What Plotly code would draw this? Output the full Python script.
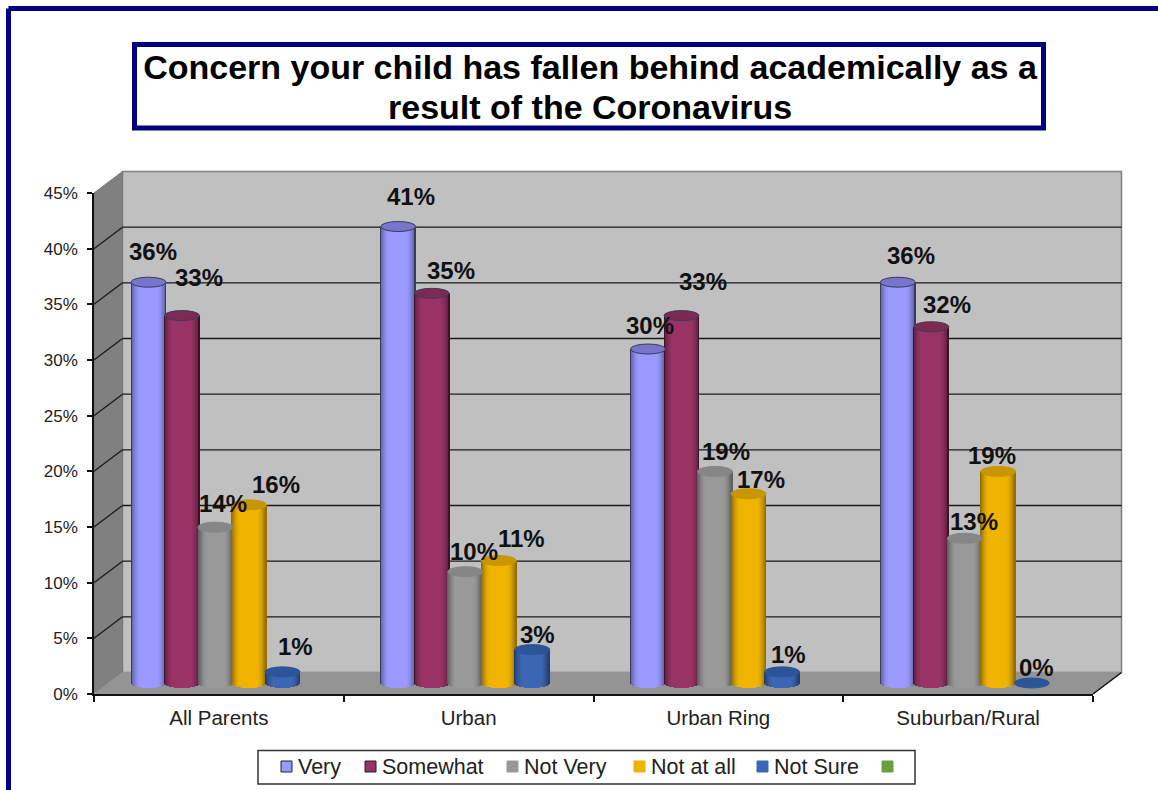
import math
import plotly.graph_objects as go

CATEGORIES = ["All Parents", "Urban", "Urban Ring", "Suburban/Rural"]
SERIES = ["Very", "Somewhat", "Not Very", "Not at all", "Not Sure"]
VERY = [36, 41, 30, 36]
SOMEWHAT = [33, 35, 33, 32]
NOT_VERY = [14, 10, 19, 13]
NOT_AT_ALL = [16, 11, 17, 19]
NOT_SURE = [1, 3, 1, 0]
VALUES = [VERY, SOMEWHAT, NOT_VERY, NOT_AT_ALL, NOT_SURE]
Y_TICKS = [0, 5, 10, 15, 20, 25, 30, 35, 40, 45]
TITLE_LINES = ["Concern your child has fallen behind academically as a", "result of the Coronavirus"]

# ---- styling ----
COLORS = ["#9999FF", "#993366", "#999999", "#F0B400", "#3A66B4"]
LIDS = ["#7676CC", "#7C2A52", "#868686", "#C89600", "#2C5598"]
OUTLINED = [True, True, False, False, False]
NAVY = "#000080"
W, H = 1158, 790
X0, X1, Y0, Y45 = 94, 1093, 694, 193
DX, DY = 28.5, 21.5           # depth of the box
PX_X = (X1 - X0) / 4          # px per category
PX_Y = (Y0 - Y45) / 45        # px per percent
LIFT = 11 / PX_Y              # marks stand inside the box
CYL = 35 / PX_X               # cylinder width
SLOTS = [54.5 / PX_X + i * 33.5 / PX_X for i in range(5)]
LID_H = 5 / PX_Y
N = 35

# label offsets from top of cylinder (px right, px up)
SHIFT = [
    [(4.5, 31), (17, 38), (7.5, 24), (27, 20), (12.5, 25)],
    [(12.75, 30), (19, 22.5), (9, 20), (23, 21.6), (5, 15)],
    [(2, 24), (21.5, 34), (11, 20), (12.5, 14), (6, 17)],
    [(13, 27), (16, 22), (9, 17), (-6, 15.5), (5, 16)],
]


def px(x):
    return (x - X0) / (X1 - X0)


def py(y):
    return (Y0 - y) / (Y0 - Y45)


def mix(c, amt):
    r, g, b = int(c[1:3], 16), int(c[3:5], 16), int(c[5:7], 16)
    f = 1 - amt
    return f"rgb({r*f:.0f},{g*f:.0f},{b*f:.0f})"


def shade(c, t, outlined):
    a = abs(t)
    amt = 0.0
    if a > 0.5:
        amt = ((a - 0.5) / 0.5) ** 1.6 * 0.42
    if outlined and a > 0.93:
        amt = 0.62
    return mix(c, amt)


def poly(points, fill, line=None, width=1, layer="below"):
    path = "M" + "L".join(f"{px(x):.5f},{py(y):.5f}" for x, y in points) + "Z"
    return dict(type="path", path=path, xref="paper", yref="paper", fillcolor=fill,
                line=dict(color=line or fill, width=width), layer=layer)


def seg(x0, y0, x1, y1, color, width, layer="below"):
    return dict(type="line", xref="paper", yref="paper", x0=px(x0), y0=py(y0), x1=px(x1), y1=py(y1),
                line=dict(color=color, width=width), layer=layer)


shapes = [
    # outer frame
    seg(8.5, 8.5, W, 8.5, NAVY, 5, "above"),
    seg(8.5, 8.5, 8.5, H, NAVY, 5, "above"),
    # title box
    poly([(134.5, 44.5), (1043.5, 44.5), (1043.5, 128), (134.5, 128)], "rgba(0,0,0,0)", NAVY, 5),
    # box walls
    poly([(X0 + DX, Y45 - DY), (X1 + DX, Y45 - DY), (X1 + DX, Y0 - DY), (X0 + DX, Y0 - DY)], "#C0C0C0", "#808080", 1.5),
    poly([(X0, Y45), (X0 + DX, Y45 - DY), (X0 + DX, Y0 - DY), (X0, Y0)], "#808080", "#777777", 1),
    poly([(X0, Y0), (X0 + DX, Y0 - DY), (X1 + DX, Y0 - DY), (X1, Y0)], "#949494", "#949494", 1),
    seg(X1, Y0, X1 + DX, Y0 - DY, "#111111", 1.5),
]
for v in Y_TICKS[1:-1]:
    yy = Y0 - v * PX_Y
    shapes.append(seg(X0, yy, X0 + DX, yy - DY, "#1A1A1A", 1.3))
    shapes.append(seg(X0 + DX, yy - DY, X1 + DX, yy - DY, "#1A1A1A", 1.3))

fig = go.Figure()
# keeps the front axis (the one with the tick labels) alive: the marks use y2
fig.add_scatter(x=[0], y=[0], mode="none", showlegend=False, hoverinfo="skip")
annotations = []
for s, name in enumerate(SERIES):
    vals = VALUES[s]
    xs = [g + SLOTS[s] for g in range(4)]
    fig.add_bar(x=xs, y=vals, width=CYL, name=name, yaxis="y2", marker=dict(color=COLORS[s], line_width=0),
                hovertemplate=name + ": %{y}%<extra></extra>")
    sx, sy, sb, sc = [], [], [], []
    for g, v in enumerate(vals):
        if v == 0:
            continue
        for i in range(N):
            t = -1 + (2 * i + 1) / N
            b = -LID_H * math.sqrt(max(0, 1 - t * t))
            sx.append(xs[g] + t * CYL / 2)
            sb.append(b)
            sy.append(v - b)
            sc.append(shade(COLORS[s], t, OUTLINED[s]))
    fig.add_bar(x=sx, y=sy, base=sb, width=CYL / N, yaxis="y2", showlegend=False, hoverinfo="skip",
                marker=dict(color=sc, line_width=0))
    for g, v in enumerate(vals):
        shapes.append(dict(type="circle", xref="x", yref="y2", x0=xs[g] - CYL / 2, x1=xs[g] + CYL / 2,
                           y0=v - LID_H, y1=v + LID_H, fillcolor=LIDS[s],
                           line=dict(color="#3A3A5A" if OUTLINED[s] else LIDS[s], width=1), layer="above"))
        dx, dy = SHIFT[g][s]
        annotations.append(dict(x=xs[g], y=v, xref="x", yref="y2", text=f"{v}%", showarrow=False,
                                xshift=dx, yshift=dy, xanchor="center", yanchor="middle",
                                font=dict(family="Liberation Sans", size=24, color="#111111", weight="bold")))

# second title line (tighter leading than a <br> would give)
annotations.append(dict(x=px(590), y=py(107), xref="paper", yref="paper", text=TITLE_LINES[1], showarrow=False,
                        xanchor="center", yanchor="middle",
                        font=dict(family="Liberation Sans", size=34, color="#000000", weight="bold")))

# legend drawn to the reference's spacing
shapes.append(dict(type="rect", xref="paper", yref="paper", x0=px(258), x1=px(915), y0=py(750.5), y1=py(784),
                   fillcolor="white", line=dict(color="#333333", width=1.5), layer="below"))
LEG_X = [281, 365, 507, 634, 757, 882]
LEG_COL = COLORS + ["#6AA040"]
for i, lx in enumerate(LEG_X):
    outlined = i < 2
    shapes.append(dict(type="rect", xref="paper", yref="paper", x0=px(lx), x1=px(lx + 11), y0=py(761), y1=py(772),
                       fillcolor=LEG_COL[i], line=dict(color="#222222" if outlined else LEG_COL[i], width=1), layer="below"))
    if i < 5:
        annotations.append(dict(x=px(lx + 15), y=py(767), xref="paper", yref="paper", text=SERIES[i], showarrow=False,
                                xanchor="left", yanchor="middle",
                                font=dict(family="Liberation Sans", size=21.5, color="#222222")))

fig.update_layout(
    width=W, height=H, autosize=False, showlegend=False, barmode="overlay", bargap=0,
    paper_bgcolor="white", plot_bgcolor="rgba(0,0,0,0)",
    margin=dict(l=X0, r=W - X1, t=Y45, b=H - Y0, pad=0),
    title=dict(text=TITLE_LINES[0], x=590 / W, xanchor="center", y=1 - 67 / H, yanchor="middle",
               font=dict(family="Liberation Sans", size=34, color="#000000", weight="bold")),
    xaxis=dict(range=[0, 4], tickmode="array", tickvals=[0.5, 1.5, 2.5, 3.5], ticktext=CATEGORIES, ticks="",
               showgrid=False, zeroline=False, showline=True, linecolor="#111111", linewidth=1.5,
               tickfont=dict(family="Liberation Sans", size=20.5, color="#222222"), ticklabelstandoff=5,
               minor=dict(tickmode="array", tickvals=[0, 1, 2, 3, 4], ticks="outside", ticklen=6,
                          tickcolor="#111111", tickwidth=1.5, showgrid=False)),
    yaxis=dict(range=[0, 45], tickmode="array", tickvals=Y_TICKS, ticktext=[f"{v}%" for v in Y_TICKS],
               ticks="outside", ticklen=5, tickcolor="#111111", tickwidth=1.5, showgrid=False, zeroline=False,
               showline=True, linecolor="#111111", linewidth=1.5, ticklabelstandoff=6,
               tickfont=dict(family="Liberation Sans", size=17, color="#222222")),
    yaxis2=dict(overlaying="y", range=[-LIFT, 45 - LIFT], visible=False, showgrid=False, zeroline=False),
    shapes=shapes, annotations=annotations,
)

fig.write_html("out.html", config=dict(displayModeBar=False), post_script="document.body.style.margin='0';")
